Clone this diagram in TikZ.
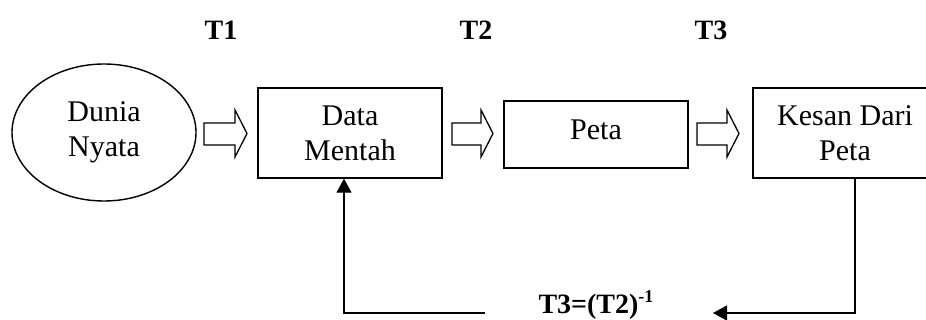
\documentclass[tikz,border=0pt]{standalone}
\usepackage{fontspec}
\setmainfont{Liberation Serif}
\usetikzlibrary{arrows.meta,shapes.geometric}
\newcommand{\hollowarrow}[2]{%
  \draw[blk] (#1,123) -- ({#2-12},123) -- ({#2-12},110) -- (#2,133.5) -- ({#2-12},157) -- ({#2-12},145) -- (#1,145) -- cycle;}
\begin{document}
\begin{tikzpicture}[x=1pt,y=-1pt, line width=1.4pt,
  txt/.style={font=\fontsize{30}{35}\selectfont, align=center},
  box/.style={draw, rectangle, inner sep=0pt, minimum width=184pt, txt},
  blk/.style={draw, line width=1.3pt, line join=miter},
  fb/.style={line width=1.3pt, -{Triangle[length=14pt,width=15pt]}},
  lbl/.style={font=\fontsize{28}{34}\selectfont\bfseries, anchor=base, inner sep=0pt}]
\useasboundingbox (0,0) rectangle (926,320);
\clip (0,0) rectangle (926,320);
% top labels
\node[lbl] (t1) at (221,40) {T1};
\node[lbl] (t2) at (476,40) {T2};
\node[lbl] (t3) at (711,40) {T3};
% main nodes
\node[ellipse, draw, inner sep=0pt, minimum width=184pt, minimum height=137pt, txt] (dn) at (104,132.5) {Dunia\\Nyata};
\node[box, minimum height=90pt] (dm) at (350,133) {Data\\Mentah};
\node[box, minimum height=67pt, text height=20pt, text depth=9pt] (pt) at (596,134.5) {Peta};
\node[box, minimum height=90pt] (kd) at (845,133) {Kesan Dari\\Peta};
% hollow block arrows
\hollowarrow{204}{247}
\hollowarrow{452}{493}
\hollowarrow{697}{739}
% feedback
\coordinate (fbL) at (485,313);
\coordinate (fbR) at (713,313);
\draw[fb] (fbL) -| ([xshift=-6pt]dm.south);
\draw[fb] ([xshift=10pt]kd.south) |- (fbR);
\node[lbl] (inv) at (596,313) {T3=(T2)\raisebox{11pt}{\fontsize{18}{18}\selectfont -1}};
\end{tikzpicture}
\end{document}
